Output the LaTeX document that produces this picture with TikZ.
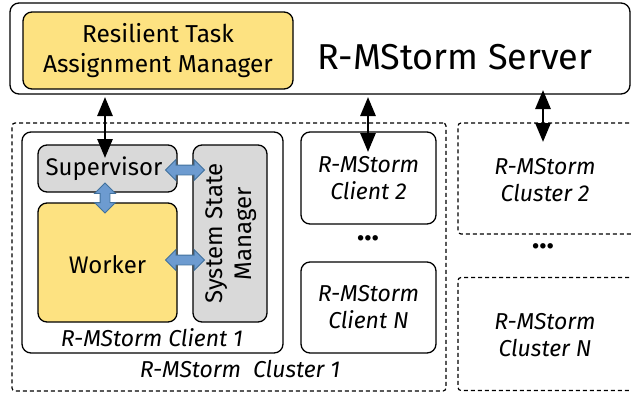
\documentclass[tikz,border=0pt]{standalone}
\usepackage{fontspec}
\setmainfont{Fira Sans}
\usetikzlibrary{shapes.arrows,arrows.meta}
\definecolor{ylw}{HTML}{FDE281}
\definecolor{gry}{HTML}{D9D9D9}
\definecolor{blu}{HTML}{6D9BD0}
\definecolor{bluedge}{HTML}{41719C}
\begin{document}
\begin{tikzpicture}[x=1pt,y=-1pt,
  solidbox/.style={draw, line width=1.3pt, rounded corners=9pt, inner sep=0pt},
  dashbox/.style={draw, line width=1.2pt, dash pattern=on 4pt off 3pt, rounded corners=3pt, inner sep=0pt},
  lbl/.style={inner sep=0pt, align=center},
  itl/.style={lbl, font=\itshape\fontsize{23}{27}\selectfont},
  link/.style={line width=2.8pt, {Triangle[length=19pt,width=15pt]}-{Triangle[length=19pt,width=15pt]}},
  blockarrow/.style={double arrow, draw=bluedge, fill=blu, line width=0.8pt, inner xsep=0pt, inner ysep=4.5pt,
     double arrow head extend=5.5pt, double arrow head indent=0pt},
]
\useasboundingbox (0,0) rectangle (631,394);
\clip (0,0) rectangle (631,394);
% server
\node[solidbox, fill=white, minimum width=620pt, minimum height=91pt] (server) at (320,48.5) {};
\node[solidbox, fill=ylw, minimum width=270pt, minimum height=77pt] (rtam) at (158,50.5) {};
\node[lbl, font=\fontsize{24.5}{30}\selectfont] (rtamtxt) at (158,50.5) {Resilient Task\\Assignment Manager};
\node[lbl, font=\fontsize{36}{42}\selectfont] (servertxt) at (455,57) {R-MStorm Server};
% cluster 1
\node[dashbox, minimum width=434pt, minimum height=268pt] (cl1) at (229,257) {};
\node[solidbox, minimum width=261pt, minimum height=221pt] (c1) at (152.5,242.5) {};
\node[solidbox, fill=gry, minimum width=139pt, minimum height=47pt] (sup) at (107.5,168.5) {};
\node[solidbox, fill=ylw, minimum width=139pt, minimum height=119pt] (work) at (107.5,262.5) {};
\node[solidbox, fill=gry, minimum width=74pt, minimum height=177pt] (ssm) at (230,233.5) {};
\node[lbl, font=\fontsize{24}{28}\selectfont] (suptxt) at (104,168.5) {Supervisor};
\node[lbl, font=\fontsize{24}{28}\selectfont] (worktxt) at (107.5,265) {Worker};
\node[lbl, font=\fontsize{24}{29}\selectfont, rotate=90] (ssmtxt) at (231,233.5) {System State\\Manager};
\node[itl] (c1txt) at (152,338) {R-MStorm Client 1};
\node[itl] (cl1txt) at (240,369) {R-MStorm\ \ Cluster 1};
% clients
\node[solidbox, minimum width=135pt, minimum height=92pt] (c2) at (368.5,178) {};
\node[itl] (c2txt) at (368.5,178) {R-MStorm\\Client 2};
\node[lbl, font=\bfseries\fontsize{30}{30}\selectfont] (dots1) at (368,238) {\dots};
\node[solidbox, minimum width=135pt, minimum height=91pt] (cn) at (368.5,307.5) {};
\node[itl] (cntxt) at (368.5,307.5) {R-MStorm\\Client N};
% other clusters
\node[dashbox, minimum width=202pt, minimum height=111pt] (cl2) at (559,178.5) {};
\node[itl] (cl2txt) at (545,180) {R-MStorm\\Cluster 2};
\node[lbl, font=\bfseries\fontsize{30}{30}\selectfont] (dots2) at (543,246) {\dots};
\node[dashbox, minimum width=202pt, minimum height=113pt] (cln) at (559,334) {};
\node[itl] (clntxt) at (545,335) {R-MStorm\\Cluster N};
% black links
\coordinate (a1t) at (105,97);
\coordinate (a1b) at (105,158);
\coordinate (a2t) at (368,97);
\coordinate (a2b) at (368,152);
\coordinate (a3t) at (543,90);
\coordinate (a3b) at (543,142);
\draw[link] (a1t) -- (a1b);
\draw[link] (a2t) -- (a2b);
\draw[link] (a3t) -- (a3b);
% blue block arrows
\node[blockarrow, minimum height=39pt] (b1) at (185,170) {};
\node[blockarrow, minimum height=39pt] (b3) at (185,260) {};
\node[blockarrow, minimum height=30pt, rotate=90] (b2) at (105,198) {};
\end{tikzpicture}
\end{document}
